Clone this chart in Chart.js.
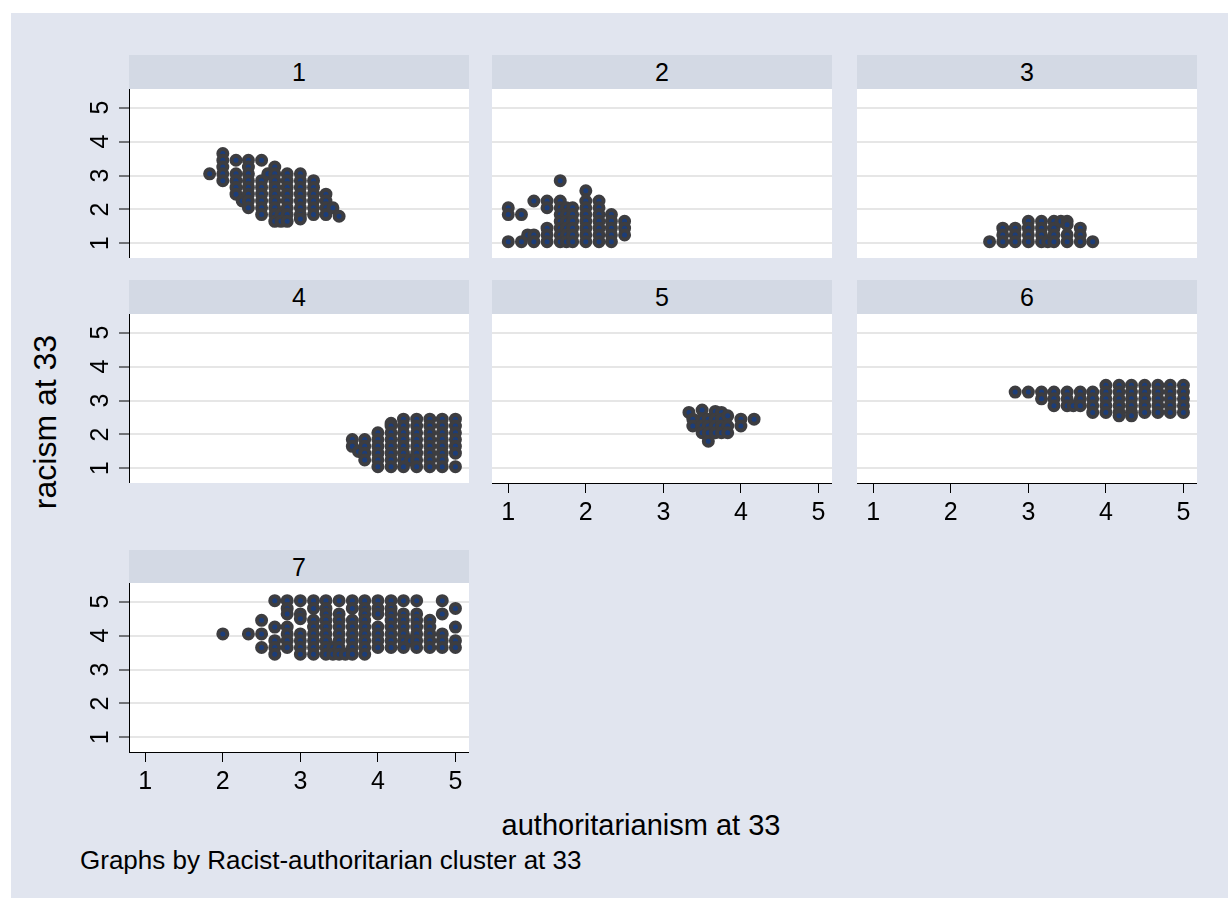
<!DOCTYPE html>
<html>
<head>
<meta charset="utf-8">
<script src="https://cdn.jsdelivr.net/npm/chart.js@4.4.1/dist/chart.umd.min.js"></script>
<style>
    html, body { margin: 0; width: 1228px; height: 898px; overflow: hidden; background: #fff; }
    body { position: relative; font-family: "Liberation Sans", Arial, sans-serif; color: #000; }
    #bg { position: absolute; left: 11px; top: 13px; width: 1217px; height: 885px; background: #e1e5ef; }
    .strip { position: absolute; background: #d3d9e4; text-align: center; font-size: 25px; line-height: 34px; }
    .panel { position: absolute; }
    #ytitle { position: absolute; left: 45px; top: 422px; font-size: 32px; white-space: nowrap;
              transform: translate(-50%, -50%) rotate(-90deg); }
    #xtitle { position: absolute; left: 641px; top: 825px; font-size: 29px; white-space: nowrap;
              transform: translate(-50%, -50%); }
    #note { position: absolute; left: 80px; top: 860px; font-size: 26px; white-space: nowrap;
            transform: translateY(-50%); }
</style>
</head>
<body>
<div id="bg"></div>
<div id="ytitle">racism at 33</div>
<div id="xtitle">authoritarianism at 33</div>
<div id="note">Graphs by Racist-authoritarian cluster at 33</div>

<script>
// Tick values and panel labels
const xTicks = [1, 2, 3, 4, 5];
const yTicks = [1, 2, 3, 4, 5];
const clusterLabels = ['1', '2', '3', '4', '5', '6', '7'];

// Points per cluster, as columns: [authoritarianism, [racism values]]
const cluster1 = [
    [1.83, [3.05]],
    [2.0, [3.65, 3.45, 3.25, 3.05, 2.85]],
    [2.17, [3.45, 3.05, 2.85, 2.65, 2.45]],
    [2.25, [2.25]],
    [2.33, [3.45, 3.25, 3.05, 2.85, 2.65, 2.45, 2.25, 2.05]],
    [2.5, [3.45, 2.85, 2.65, 2.45, 2.25, 2.05, 1.85]],
    [2.58, [3.05]],
    [2.67, [3.25, 3.05, 2.85, 2.65, 2.45, 2.25, 2.05, 1.85, 1.65]],
    [2.75, [1.85, 1.65]],
    [2.83, [3.05, 2.85, 2.65, 2.45, 2.25, 2.05, 1.85, 1.65]],
    [3.0, [3.05, 2.85, 2.65, 2.45, 2.25, 2.05, 1.85, 1.72]],
    [3.17, [2.85, 2.65, 2.45, 2.25, 2.05, 1.85]],
    [3.33, [2.45, 2.25, 2.05, 1.85]],
    [3.42, [2.05]],
    [3.5, [1.8]]
];
const cluster2 = [
    [1.0, [2.05, 1.85, 1.05]],
    [1.17, [1.85, 1.05]],
    [1.25, [1.25]],
    [1.33, [2.25, 1.25, 1.05]],
    [1.5, [2.25, 2.05, 1.45, 1.25, 1.05]],
    [1.67, [2.85, 2.25, 2.05, 1.85, 1.65, 1.45, 1.25, 1.05]],
    [1.75, [2.05, 1.85, 1.65, 1.45, 1.25, 1.05]],
    [1.83, [2.05, 1.85, 1.65, 1.45, 1.25, 1.05]],
    [2.0, [2.55, 2.25, 2.05, 1.85, 1.65, 1.45, 1.25, 1.05]],
    [2.17, [2.25, 2.05, 1.85, 1.65, 1.45, 1.25, 1.05]],
    [2.33, [1.85, 1.65, 1.45, 1.25, 1.05]],
    [2.5, [1.65, 1.45, 1.25]]
];
const cluster3 = [
    [2.5, [1.05]],
    [2.67, [1.45, 1.25, 1.05]],
    [2.83, [1.45, 1.25, 1.05]],
    [3.0, [1.65, 1.45, 1.25, 1.05]],
    [3.17, [1.65, 1.45, 1.25, 1.05]],
    [3.25, [1.05]],
    [3.33, [1.65, 1.45, 1.25, 1.05]],
    [3.42, [1.65]],
    [3.5, [1.65, 1.55, 1.25, 1.05]],
    [3.67, [1.45, 1.25, 1.05]],
    [3.83, [1.05]]
];
const cluster4 = [
    [3.67, [1.85, 1.65]],
    [3.75, [1.5]],
    [3.83, [1.85, 1.65, 1.45, 1.25]],
    [4.0, [2.05, 1.85, 1.65, 1.45, 1.25, 1.05]],
    [4.17, [2.33, 2.25, 2.05, 1.85, 1.65, 1.45, 1.25, 1.05]],
    [4.33, [2.45, 2.25, 2.05, 1.85, 1.65, 1.45, 1.25, 1.05]],
    [4.42, [1.25]],
    [4.5, [2.45, 2.25, 2.05, 1.85, 1.65, 1.45, 1.25, 1.05]],
    [4.67, [2.45, 2.25, 2.05, 1.85, 1.65, 1.45, 1.25, 1.05]],
    [4.83, [2.45, 2.25, 2.05, 1.85, 1.65, 1.45, 1.25, 1.05]],
    [5.0, [2.45, 2.25, 2.05, 1.85, 1.65, 1.45, 1.05]]
];
const cluster5 = [
    [3.33, [2.65]],
    [3.38, [2.45, 2.25]],
    [3.5, [2.72, 2.45, 2.25, 2.05]],
    [3.58, [2.45, 2.25, 2.05, 1.8]],
    [3.67, [2.68, 2.45, 2.25, 2.05]],
    [3.75, [2.65, 2.45, 2.25, 2.05]],
    [3.83, [2.55, 2.25, 2.05]],
    [4.0, [2.45, 2.25]],
    [4.17, [2.45]]
];
const cluster6 = [
    [2.83, [3.25]],
    [3.0, [3.25]],
    [3.17, [3.25, 3.05]],
    [3.33, [3.25, 3.05, 2.85]],
    [3.5, [3.25, 3.05, 2.85]],
    [3.58, [2.85]],
    [3.67, [3.25, 3.05, 2.85]],
    [3.83, [3.25, 3.05, 2.85, 2.65]],
    [4.0, [3.45, 3.25, 3.05, 2.85, 2.65]],
    [4.17, [3.45, 3.25, 3.05, 2.85, 2.65, 2.55]],
    [4.33, [3.45, 3.25, 3.05, 2.85, 2.65, 2.55]],
    [4.5, [3.45, 3.25, 3.05, 2.85, 2.65]],
    [4.67, [3.45, 3.25, 3.05, 2.85, 2.65]],
    [4.83, [3.45, 3.25, 3.05, 2.85, 2.65]],
    [5.0, [3.45, 3.25, 3.05, 2.85, 2.65]]
];
const cluster7 = [
    [2.0, [4.05]],
    [2.33, [4.05]],
    [2.5, [4.45, 4.05, 3.65]],
    [2.67, [5.03, 4.25, 3.85, 3.65, 3.45]],
    [2.83, [5.03, 4.8, 4.64, 4.25, 4.05, 3.85, 3.65]],
    [3.0, [5.03, 4.64, 4.5, 4.05, 3.85, 3.65, 3.45]],
    [3.17, [5.03, 4.8, 4.45, 4.25, 4.05, 3.85, 3.65, 3.45]],
    [3.33, [5.03, 4.8, 4.64, 4.45, 4.25, 4.05, 3.85, 3.65, 3.45]],
    [3.42, [3.65, 3.45]],
    [3.5, [5.03, 4.64, 4.45, 4.25, 4.05, 3.85, 3.65, 3.45]],
    [3.58, [3.45]],
    [3.67, [5.03, 4.8, 4.45, 4.25, 4.05, 3.85, 3.65, 3.45]],
    [3.83, [5.03, 4.8, 4.64, 4.45, 4.25, 4.05, 3.85, 3.65, 3.45]],
    [4.0, [5.03, 4.8, 4.64, 4.25, 4.05, 3.85, 3.65]],
    [4.17, [5.03, 4.8, 4.64, 4.45, 4.25, 4.05, 3.85, 3.65]],
    [4.33, [5.03, 4.64, 4.45, 4.25, 4.05, 3.85, 3.65]],
    [4.42, [3.85]],
    [4.5, [5.03, 4.64, 4.45, 4.25, 4.05, 3.85, 3.65]],
    [4.67, [4.45, 4.25, 4.05, 3.85, 3.65]],
    [4.83, [5.03, 4.64, 4.05, 3.85, 3.65]],
    [5.0, [4.8, 4.25, 3.85, 3.65]]
];
const clusters = [cluster1, cluster2, cluster3, cluster4, cluster5, cluster6, cluster7];

// Layout of the 3x3 grid (pixels)
const colLeft = [129, 492, 857];
const plotWidth = 340;
const stripTop = [55, 280, 550];
const plotTop = [89, 314, 583];
const plotHeight = 169;
const axisSpace = 52;

// White plot region behind the markers
const plotBackground = {
    id: 'plotBackground',
    beforeDraw(chart) {
        const a = chart.chartArea;
        const ctx = chart.ctx;
        ctx.save();
        ctx.fillStyle = '#ffffff';
        ctx.fillRect(a.left, a.top, a.right - a.left, a.bottom - a.top);
        ctx.restore();
    }
};

function toPoints(columns) {
    const pts = [];
    columns.forEach(([x, ys]) => ys.forEach(y => pts.push({ x: x, y: y })));
    return pts;
}

// keep the plot region exactly where the layout puts it
function fixSize(s, w, h) {
    if (w !== null) s.width = w;
    if (h !== null) s.height = h;
    s.paddingTop = 0;
    s.paddingBottom = 0;
    s.paddingLeft = 0;
    s.paddingRight = 0;
}

const tickFont = { family: '"Liberation Sans", Arial, sans-serif', size: 25 };

clusters.forEach((columns, i) => {
    const col = i % 3;
    const row = Math.floor(i / 3);
    const hasY = col === 0;
    const hasX = i >= 4;

    const strip = document.createElement('div');
    strip.className = 'strip';
    strip.style.left = colLeft[col] + 'px';
    strip.style.top = stripTop[row] + 'px';
    strip.style.width = plotWidth + 'px';
    strip.style.height = (plotTop[row] - stripTop[row]) + 'px';
    strip.textContent = clusterLabels[i];
    document.body.appendChild(strip);

    const yw = hasY ? axisSpace : 0;
    const xh = hasX ? axisSpace : 0;
    const canvas = document.createElement('canvas');
    canvas.className = 'panel';
    canvas.width = plotWidth + yw;
    canvas.height = plotHeight + xh;
    canvas.style.left = (colLeft[col] - yw) + 'px';
    canvas.style.top = plotTop[row] + 'px';
    document.body.appendChild(canvas);

    new Chart(canvas.getContext('2d'), {
        type: 'scatter',
        data: {
            datasets: [{
                data: toPoints(columns),
                pointRadius: 4.5,
                pointBorderWidth: 4,
                pointBackgroundColor: '#1b3d7a',
                pointBorderColor: '#3d3d40',
                pointHoverRadius: 4.5
            }]
        },
        options: {
            responsive: false,
            animation: false,
            layout: { padding: 0, autoPadding: false },
            plugins: { legend: { display: false }, tooltip: { enabled: false } },
            scales: {
                x: {
                    type: 'linear',
                    display: hasX,
                    min: 0.79,
                    max: 5.175,
                    afterBuildTicks: s => { s.ticks = xTicks.map(v => ({ value: v })); },
                    afterFit: s => fixSize(s, null, xh),
                    border: { display: true, color: '#000', width: 1 },
                    grid: { drawOnChartArea: false, drawTicks: true, tickLength: 10, tickColor: '#000', tickWidth: 1 },
                    ticks: { font: tickFont, color: '#000', padding: 5, maxRotation: 0, autoSkip: false }
                },
                y: {
                    type: 'linear',
                    min: 0.57,
                    max: 5.55,
                    afterBuildTicks: s => { s.ticks = yTicks.map(v => ({ value: v })); },
                    afterFit: s => fixSize(s, yw, null),
                    border: { display: hasY, color: '#000', width: 1 },
                    grid: {
                        color: '#e6e6e6', lineWidth: 2,
                        drawTicks: hasY, tickLength: 10, tickColor: '#000', tickWidth: 1
                    },
                    ticks: {
                        display: hasY, font: tickFont, color: '#000', padding: 11,
                        minRotation: 90, maxRotation: 90, crossAlign: 'center'
                    }
                }
            }
        },
        plugins: [plotBackground]
    });
});
</script>
</body>
</html>
